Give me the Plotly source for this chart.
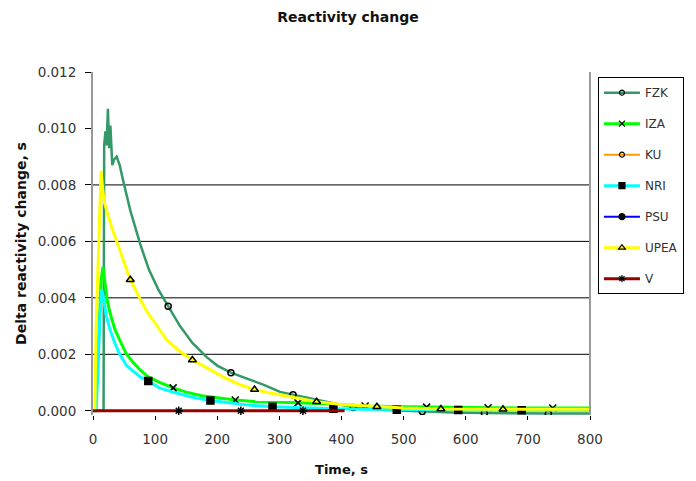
import plotly.graph_objects as go

# ---- data -------------------------------------------------------------
fzk_t = [0, 17, 18, 20, 22, 24, 26, 28, 31, 34, 38, 43, 48, 52, 60, 76, 90, 105, 121, 140,
         160, 183, 200, 222, 250, 275, 301, 322, 350, 380, 419, 470, 530, 580, 630, 680, 733, 770, 800]
fzk_y = [0, 0, 0.0094, 0.0099, 0.0094, 0.0107, 0.0093, 0.0101, 0.0087, 0.0089, 0.0090, 0.0087,
         0.0082, 0.0078, 0.0071, 0.0059, 0.0050, 0.0043, 0.0037, 0.0030, 0.0024, 0.0019, 0.0016,
         0.00135, 0.00112, 0.00092, 0.00067, 0.00057, 0.00043, 0.00031, 0.00012, 0.00003,
         -0.00003, -0.00006, -0.00008, -0.0001, -0.0001, -0.0001, -0.0001]
fzk_marks = [121, 222, 322, 419, 530, 630, 733]

iza_t = [0, 4, 7, 10, 13, 16, 19, 23, 27, 35, 43, 54, 65, 78, 89, 108, 129, 150, 175, 200, 229,
         260, 290, 330, 380, 438, 480, 537, 580, 636, 680, 740, 800]
iza_y = [0, 0, 0.0014, 0.0033, 0.0046, 0.0051, 0.0045, 0.0039, 0.0035, 0.0029, 0.0025, 0.0020,
         0.0017, 0.0014, 0.0012, 0.0010, 0.00081, 0.00066, 0.00053, 0.00045, 0.00038, 0.00033,
         0.00030, 0.00028, 0.00024, 0.00017, 0.00015, 0.00013, 0.00012, 0.00011, 0.0001, 0.0001, 0.0001]
iza_marks = [129, 229, 330, 438, 537, 636, 740]

nri_t = [0, 5, 8, 11, 14, 17, 21, 27, 35, 43, 54, 65, 76, 89, 108, 130, 160, 189, 220, 250, 289,
         340, 387, 440, 489, 540, 588, 640, 690, 740, 800]
nri_y = [0, 0, 0.0015, 0.0033, 0.0043, 0.0040, 0.0034, 0.0029, 0.0024, 0.0020, 0.0016, 0.0014,
         0.0012, 0.00105, 0.00080, 0.00065, 0.00048, 0.00036, 0.00027, 0.00020, 0.00014, 0.0001,
         0.00007, 0.00005, 0.00004, 0.00003, 0.00003, 0.00002, 0.00002, 0.00002, 0.00002]
nri_marks = [89, 189, 289, 387, 489, 588, 690]

upea_t = [0, 3, 5, 8, 11, 13, 15, 18, 22, 30, 43, 60, 75, 87, 100, 119, 140, 160, 185, 209, 237,
          260, 283, 320, 360, 400, 457, 500, 560, 600, 660, 700, 800]
upea_y = [0, 0, 0.0030, 0.0053, 0.0077, 0.0085, 0.0080, 0.0074, 0.0071, 0.0065, 0.0057, 0.00464,
          0.0040, 0.0035, 0.0031, 0.0025, 0.0021, 0.0018, 0.0015, 0.0012, 0.00092, 0.00075,
          0.00064, 0.00048, 0.00032, 0.00022, 0.00014, 0.0001, 0.00006, 0.00005, 0.00005,
          0.00005, 0.00005]
upea_marks = [60, 160, 260, 360, 457, 560, 660]

v_t = [0, 138, 238, 338, 405]
v_y = [0, 0, 0, 0, 0]
v_marks = [138, 238, 338]

ku_t, ku_y, ku_marks = [], [], []
psu_t, psu_y, psu_marks = [], [], []

series_names = ["FZK", "IZA", "KU", "NRI", "PSU", "UPEA", "V"]
y_ticks = [0.000, 0.002, 0.004, 0.006, 0.008, 0.010, 0.012]
grid_values = [0.002, 0.004, 0.006, 0.008]
x_ticks = [0, 100, 200, 300, 400, 500, 600, 700, 800]

# ---- styling ----------------------------------------------------------
styles = {
    "FZK":  dict(color="#339966", width=2.5, symbol="circle-open", size=6),
    "IZA":  dict(color="#00FF00", width=3, symbol="x-thin-open", size=7),
    "KU":   dict(color="#FF9900", width=2, symbol="circle-open", size=6),
    "NRI":  dict(color="#00FFFF", width=3, symbol="square", size=7),
    "PSU":  dict(color="#0000FF", width=2, symbol="circle", size=7),
    "UPEA": dict(color="#FFFF00", width=3, symbol="triangle-up-open", size=7),
    "V":    dict(color="#990000", width=3, symbol="asterisk-open", size=7),
}
data = {
    "FZK": (fzk_t, fzk_y, fzk_marks),
    "IZA": (iza_t, iza_y, iza_marks),
    "KU": (ku_t, ku_y, ku_marks),
    "NRI": (nri_t, nri_y, nri_marks),
    "PSU": (psu_t, psu_y, psu_marks),
    "UPEA": (upea_t, upea_y, upea_marks),
    "V": (v_t, v_y, v_marks),
}

fig = go.Figure()
for name in series_names:
    t, y, marks = data[name]
    st = styles[name]
    fig.add_trace(go.Scatter(
        x=t, y=y, mode="lines", legendgroup=name, showlegend=False,
        line=dict(color=st["color"], width=st["width"]), hoverinfo="skip"))
    mx = [ti for ti in t if ti in marks]
    my = [yi for ti, yi in zip(t, y) if ti in marks]
    fig.add_trace(go.Scatter(
        x=mx, y=my, mode="markers", legendgroup=name, showlegend=False,
        marker=dict(symbol=st["symbol"], size=st["size"], color="black",
                    line=dict(color="black", width=1.5))))
    # legend entry showing line and marker together
    fig.add_trace(go.Scatter(
        x=[None], y=[None], mode="lines+markers", name=name, legendgroup=name,
        line=dict(color=st["color"], width=st["width"]),
        marker=dict(symbol=st["symbol"], size=st["size"] - 1, color="black",
                    line=dict(color="black", width=1.2))))

for g in grid_values:
    fig.add_shape(type="line", xref="paper", x0=0, x1=1, yref="y", y0=g, y1=g,
                  line=dict(color="black", width=1), layer="below")
fig.add_shape(type="line", xref="paper", x0=1, x1=1, yref="paper", y0=0, y1=1,
              line=dict(color="#999999", width=2))

font_family = "DejaVu Sans, Verdana, sans-serif"
fig.update_layout(
    width=696, height=481,
    margin=dict(l=93, r=106, t=72, b=66),
    paper_bgcolor="white", plot_bgcolor="white",
    font=dict(family=font_family, size=13, color="#333333"),
    title=dict(text="<b>Reactivity change</b>", x=0.5, xref="container", xanchor="center",
               y=1 - 17 / 481, yref="container", yanchor="middle",
               font=dict(size=14, color="#111111")),
    legend=dict(x=1.016, xanchor="left", y=0.985, yanchor="top",
                bordercolor="black", borderwidth=1, bgcolor="white",
                traceorder="grouped", tracegroupgap=12,
                font=dict(size=12, color="#333333"), itemwidth=36),
    showlegend=True,
)
fig.update_xaxes(
    range=[0, 800], tickvals=x_ticks, ticks="outside", ticklen=4, tickcolor="black",
    showgrid=False, zeroline=False, showline=False, ticklabelstandoff=8,
    tickfont=dict(size=13.5), automargin=False,
    title=dict(text="<b>Time, s</b>", standoff=18, font=dict(size=13, color="#111111")),
)
fig.update_yaxes(
    range=[-0.00015, 0.012], tickvals=y_ticks, tickformat=".3f", ticks="outside",
    ticklen=6, tickcolor="black", showgrid=False, zeroline=False,
    showline=True, linecolor="#999999", linewidth=2, ticklabelstandoff=6,
    tickfont=dict(size=13.5), automargin=False,
    title=dict(text="<b>Delta reactivity change, s</b>", standoff=8,
               font=dict(size=14, color="#111111")),
)

fig.write_html("out.html")
